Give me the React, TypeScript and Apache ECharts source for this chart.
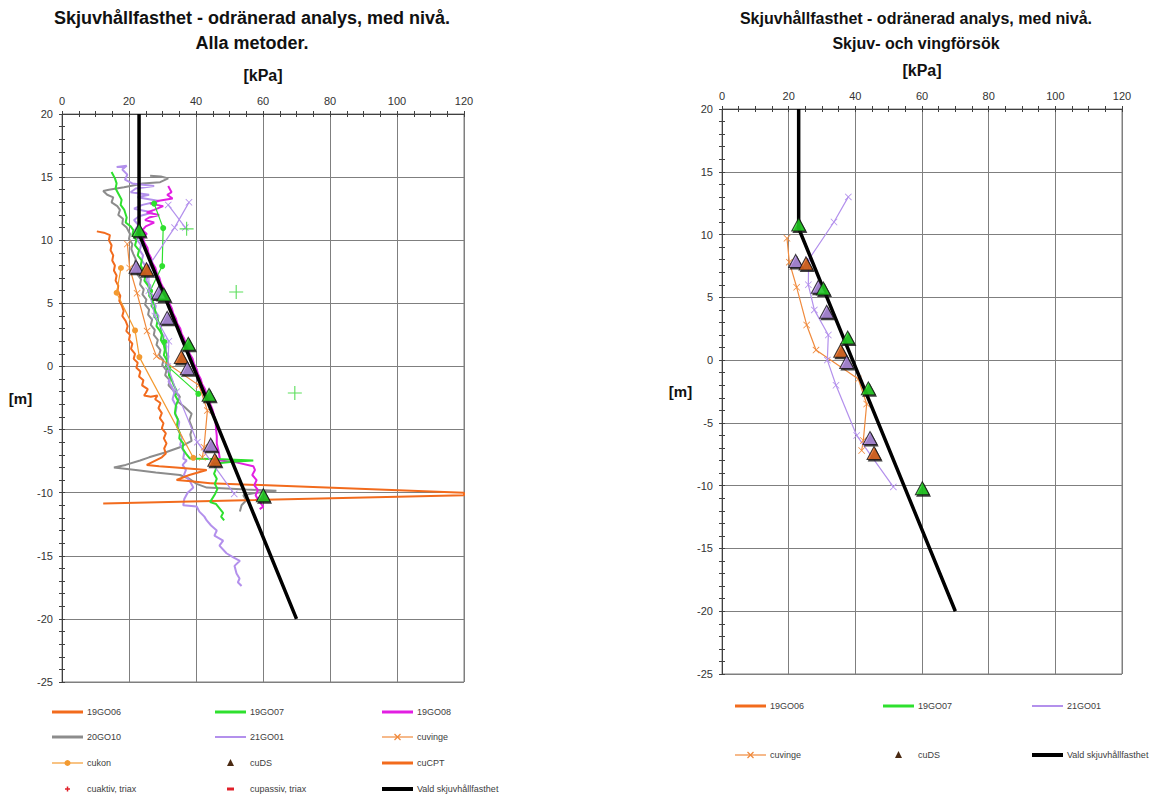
import { useEffect, useRef } from "react";
import * as echarts from "echarts";

const FONT = '"Liberation Sans", Arial, Helvetica, sans-serif';

// ---------- axes ----------
const X_MIN = 0;
const X_MAX = 120;
const X_STEP = 20;
const Y_MIN = -25;
const Y_MAX = 20;
const Y_STEP = 5;

// ---------- titles ----------
const leftTitle = ["Skjuvhållfasthet - odränerad analys, med nivå.", "Alla metoder."];
const rightTitle = ["Skjuvhållfasthet - odränerad analys, med nivå.", "Skjuv- och vingförsök"];

// ---------- data: [kPa, level m] ----------
const p19GO06 = [[10.4,10.7],[12.5,10.6],[14.3,10.4],[14.0,10.0],[14.8,9.6],[14.5,9.2],[15.3,8.8],[15.0,8.4],[15.8,8.0],[15.5,7.6],[16.3,7.2],[16.0,6.8],[16.8,6.4],[16.6,6.0],[17.4,5.6],[17.1,5.2],[17.9,4.8],[18.4,4.4],[18.0,4.0],[19.0,3.6],[19.6,3.2],[19.2,2.8],[20.3,2.5],[20.0,2.1],[21.0,1.8],[20.6,1.4],[21.8,1.0],[21.4,0.6],[22.6,0.3],[22.2,-0.1],[23.4,-0.4],[23.0,-0.8],[24.3,-1.1],[23.9,-1.5],[25.6,-1.8],[25.0,-2.1],[24.5,-2.3],[26.5,-2.4],[28.5,-2.3],[27.8,-2.6],[29.4,-2.9],[28.8,-3.3],[29.8,-3.7],[29.2,-4.1],[30.3,-4.5],[29.8,-4.9],[31.0,-5.3],[30.4,-5.7],[31.2,-6.1],[30.5,-6.5],[31.0,-6.9],[29.8,-7.2],[25.3,-7.8],[29.0,-7.9],[34.0,-8.0],[43.2,-8.2],[38.0,-8.6],[34.2,-9.0],[38.5,-9.1],[44.2,-9.25]];
const cuCPT = [[44.2,-9.25],[120,-10.0],[120,-10.2],[12.3,-10.85]];
const p19GO07 = [[14.8,15.4],[15.8,14.9],[16.3,14.5],[16.0,14.1],[17.0,13.6],[17.8,13.2],[17.5,12.8],[18.6,12.4],[19.3,11.8],[19.0,11.4],[20.5,11.1],[21.3,10.8],[21.0,10.4],[22.2,10.0],[21.8,9.6],[23.0,9.2],[22.6,8.8],[23.8,8.4],[23.5,8.0],[24.3,7.6],[24.9,7.2],[24.6,6.8],[25.7,6.4],[26.3,6.0],[26.0,5.6],[27.0,5.2],[26.7,4.8],[27.8,4.4],[27.5,4.0],[28.5,3.6],[28.2,3.2],[29.3,2.8],[29.8,2.5],[29.5,2.1],[30.4,1.7],[30.7,1.3],[30.4,0.9],[31.3,0.5],[31.0,0.1],[32.2,-0.3],[31.9,-0.7],[32.8,-1.1],[33.4,-1.5],[34.2,-1.9],[33.8,-2.3],[34.6,-2.7],[34.0,-3.1],[33.7,-3.7],[34.6,-4.2],[34.3,-4.7],[35.2,-5.3],[35.0,-5.7],[36.2,-6.1],[36.0,-6.5],[37.0,-6.9],[38.2,-7.3],[48.0,-7.35],[57.1,-7.45],[51.0,-7.55],[45.2,-7.7],[46.0,-8.1],[45.4,-8.5],[46.2,-8.9],[45.6,-9.3],[46.4,-9.7],[45.7,-10.1],[44.2,-10.75],[46.0,-10.9],[47.2,-11.3],[48.1,-11.6],[47.5,-11.9],[48.4,-12.2]];
const p19GO08 = [[31.7,14.3],[32.7,13.8],[31.4,13.6],[33.0,13.3],[28.5,13.1],[26.3,12.9],[30.2,12.7],[27.5,12.4],[25.3,12.2],[29.0,12.0],[26.0,11.8],[24.8,11.6],[27.5,11.4],[25.0,11.1],[24.0,10.8],[25.3,10.5],[24.2,10.2],[24.6,9.8],[25.5,9.4],[25.8,9.0],[26.6,8.6],[27.0,8.2],[27.9,7.8],[28.3,7.4],[29.1,7.0],[29.5,6.6],[30.3,6.2],[30.7,5.8],[31.6,5.4],[32.0,5.0],[32.8,4.6],[33.2,4.2],[34.0,3.8],[34.4,3.4],[35.3,3.0],[35.7,2.6],[36.5,2.2],[36.9,1.8],[37.7,1.4],[38.1,1.0],[39.0,0.6],[39.4,0.2],[40.2,-0.2],[40.6,-0.6],[41.4,-1.0],[41.8,-1.4],[42.7,-1.8],[43.1,-2.2],[43.9,-2.6],[44.3,-3.0],[44.9,-3.4],[45.3,-3.8],[45.7,-4.2],[45.9,-4.6],[46.0,-5.0],[46.2,-5.5],[46.2,-6.1],[46.8,-6.8],[47.2,-7.45],[52.0,-7.6],[57.1,-7.9],[57.6,-8.2],[56.8,-8.6],[58.1,-9.0],[57.4,-9.4],[58.5,-9.8],[57.8,-10.2],[58.6,-10.6],[60.1,-11.1],[59.0,-11.3]];
const p20GO10 = [[26.3,15.1],[29.5,15.05],[31.7,14.9],[29.3,14.6],[24.0,14.5],[22.3,14.4],[18.5,14.2],[14.0,14.0],[12.3,13.9],[13.5,13.6],[15.3,13.4],[14.8,13.0],[16.5,12.7],[17.3,12.4],[16.8,12.0],[18.2,11.7],[18.0,11.3],[19.3,11.0],[20.3,10.5],[20.0,10.1],[21.0,9.7],[20.7,9.3],[21.3,8.9],[22.0,8.5],[21.7,8.1],[22.8,7.7],[22.5,7.3],[23.6,6.9],[23.3,6.5],[24.4,6.1],[24.0,5.7],[25.2,5.3],[24.8,4.9],[26.0,4.5],[25.7,4.1],[26.9,3.7],[26.5,3.3],[27.7,2.9],[27.4,2.5],[28.6,2.1],[28.2,1.7],[29.4,1.3],[29.0,0.9],[30.3,0.5],[29.9,0.1],[31.2,-0.3],[30.8,-0.7],[32.2,-1.1],[31.8,-1.5],[33.2,-1.9],[35.2,-2.4],[34.6,-2.8],[36.5,-3.2],[38.7,-3.75],[38.0,-4.3],[38.9,-4.9],[38.3,-5.4],[38.7,-5.9],[35.2,-6.4],[31.0,-6.8],[26.0,-7.2],[23.3,-7.45],[19.0,-7.8],[15.5,-8.0],[22.0,-8.2],[28.0,-8.4],[35.2,-8.6],[38.0,-8.9],[40.2,-9.3],[43.2,-9.6],[55.0,-9.75],[64.0,-9.85],[58.0,-10.0],[54.1,-10.2],[55.0,-10.6],[53.6,-11.0],[53.1,-11.5]];
const p21GO01 = [[16.3,15.8],[19.3,15.9],[18.0,15.6],[19.5,15.2],[18.8,14.8],[21.0,14.5],[27.5,14.3],[22.0,14.1],[20.5,13.8],[26.0,13.6],[22.5,13.4],[29.0,13.1],[24.0,12.8],[21.5,12.5],[27.0,12.2],[23.0,11.9],[21.5,11.6],[22.8,11.2],[21.8,10.8],[23.0,10.4],[22.5,10.0],[23.6,9.6],[23.2,9.2],[24.2,8.8],[23.8,8.4],[24.8,8.0],[24.4,7.6],[25.6,7.2],[25.2,6.8],[26.4,6.4],[26.0,6.0],[27.2,5.6],[26.9,5.2],[28.0,4.8],[27.7,4.4],[28.8,4.0],[28.5,3.6],[29.6,3.2],[29.3,2.8],[30.4,2.4],[30.1,2.0],[31.2,1.6],[30.9,1.2],[31.8,0.8],[31.5,0.4],[32.2,0.0],[31.6,-0.4],[32.4,-0.8],[31.8,-1.2],[32.8,-1.6],[33.5,-2.1],[33.0,-2.6],[34.2,-3.2],[33.8,-3.8],[35.0,-4.4],[34.6,-5.0],[35.8,-5.6],[35.3,-6.2],[36.5,-6.8],[36.2,-7.3],[37.2,-7.45],[36.0,-7.8],[37.0,-8.2],[36.4,-8.6],[38.0,-9.0],[39.2,-9.6],[37.5,-10.0],[36.5,-10.5],[36.2,-11.0],[40.2,-11.1],[41.0,-11.5],[42.5,-11.9],[43.2,-12.2],[44.5,-12.6],[46.2,-13.0],[45.5,-13.4],[48.1,-13.8],[47.0,-14.2],[49.1,-14.8],[51.0,-15.1],[53.1,-15.4],[51.5,-15.8],[52.1,-16.4],[53.0,-16.8],[52.5,-17.1],[53.6,-17.4]];
const cukon19GO06 = [[17.6,7.8],[16.3,5.84],[21.8,2.85],[23.1,0.74],[39.2,-7.24]];
const cukon19GO07 = [[27.5,12.9],[30.2,10.96],[29.9,7.95],[26.3,5.97],[30.6,1.93],[31.8,-0.05],[40.7,-2.17]];
const cuvinge = [[19.5,9.7],[20.2,7.8],[22.4,5.8],[25.4,2.8],[28.2,0.8],[40.9,-1.5],[43.4,-3.5],[42.4,-6.4],[41.9,-7.2]];
const vinge21GO01 = [[37.9,13.0],[33.6,11.0],[26.0,8.0],[25.9,6.0],[27.7,4.0],[31.9,2.0],[31.6,0.0],[34.2,-2.0],[40.4,-6.0],[51.4,-10.1]];
const vinge21GO01b = [[31.7,12.8],[36.8,11.0]];
const cuaktiv = [[37.2,10.9],[52.0,5.9],[69.5,-2.1]];
const cuDSPoints = [[23.0,10.8],[22.1,7.9],[25.2,7.7],[28.9,5.85],[30.4,5.7],[31.4,3.85],[37.7,1.8],[35.6,0.75],[37.4,-0.15],[43.9,-2.25],[44.4,-6.2],[45.6,-7.4],[60.1,-10.2]];
const cuDSSource = ["19GO07","21GO01","19GO06","21GO01","19GO07","21GO01","19GO07","19GO06","21GO01","19GO07","21GO01","19GO06","19GO07"];
const vald = [[23,20],[23,10.5],[70,-20]];

// ---------- legends ----------
const leftLegend = ["19GO06","19GO07","19GO08","20GO10","21GO01","cuvinge","cukon","cuDS","cuCPT","cuaktiv, triax","cupassiv, triax","Vald skjuvhållfasthet"];
const rightLegend = ["19GO06","19GO07","21GO01","cuvinge","cuDS","Vald skjuvhållfasthet"];

const C = {
  o6: "#F26B1D",
  g7: "#2EE02E",
  m8: "#E21EE2",
  gr: "#8C8C8C",
  pu: "#B390EC",
  vin: "#F08A3C",
  kon: "#F39A30",
  red: "#E0202A",
  ds: "#4A2A12",
};
const dsColor: Record<string, string> = { "19GO06": "#EE6A1C", "19GO07": "#22DD22", "21GO01": "#B690EA" };

const legendStyle: Record<string, any> = {
  "19GO06": { kind: "line", color: C.o6, w: 3 },
  "19GO07": { kind: "line", color: C.g7, w: 3 },
  "19GO08": { kind: "line", color: C.m8, w: 3 },
  "20GO10": { kind: "line", color: C.gr, w: 3 },
  "21GO01": { kind: "line", color: C.pu, w: 2 },
  cuvinge: { kind: "lineX", color: C.vin, w: 1.2 },
  cukon: { kind: "lineDot", color: C.kon, w: 1.2 },
  cuDS: { kind: "tri", color: C.ds },
  cuCPT: { kind: "line", color: C.o6, w: 3 },
  "cuaktiv, triax": { kind: "plus", color: C.red },
  "cupassiv, triax": { kind: "dash", color: C.red },
  "Vald skjuvhållfasthet": { kind: "line", color: "#000", w: 4 },
};

const X_SYMBOL = "path://M0,0.8L0.8,0L5,4.2L9.2,0L10,0.8L5.8,5L10,9.2L9.2,10L5,5.8L0.8,10L0,9.2L4.2,5Z";
const PLUS_SYMBOL = "path://M4.6,0H5.4V4.6H10V5.4H5.4V10H4.6V5.4H0V4.6H4.6Z";

function legendGraphics(names: string[], colsX: number[], rowsY: number[]) {
  const els: any[] = [];
  names.forEach((name, i) => {
    const st = legendStyle[name];
    const x0 = colsX[i % 3];
    const y = rowsY[Math.floor(i / 3)];
    const x1 = x0 + 31;
    const cx = (x0 + x1) / 2;
    if (st.kind === "line" || st.kind === "lineX" || st.kind === "lineDot") {
      els.push({ type: "line", shape: { x1: x0, y1: y, x2: x1, y2: y }, style: { stroke: st.color, lineWidth: st.w } });
    }
    if (st.kind === "lineX") {
      els.push({ type: "line", shape: { x1: cx - 3, y1: y - 3, x2: cx + 3, y2: y + 3 }, style: { stroke: st.color, lineWidth: 1.2 } });
      els.push({ type: "line", shape: { x1: cx - 3, y1: y + 3, x2: cx + 3, y2: y - 3 }, style: { stroke: st.color, lineWidth: 1.2 } });
    }
    if (st.kind === "lineDot") {
      els.push({ type: "circle", shape: { cx, cy: y, r: 3 }, style: { fill: st.color } });
    }
    if (st.kind === "tri") {
      els.push({ type: "polygon", shape: { points: [[cx, y - 4], [cx - 3.5, y + 3], [cx + 3.5, y + 3]] }, style: { fill: st.color } });
    }
    if (st.kind === "plus") {
      els.push({ type: "line", shape: { x1: cx - 2.5, y1: y, x2: cx + 2.5, y2: y }, style: { stroke: st.color, lineWidth: 1.5 } });
      els.push({ type: "line", shape: { x1: cx, y1: y - 2.5, x2: cx, y2: y + 2.5 }, style: { stroke: st.color, lineWidth: 1.5 } });
    }
    if (st.kind === "dash") {
      els.push({ type: "rect", shape: { x: cx - 3.5, y: y - 1.5, width: 7, height: 3 }, style: { fill: st.color } });
    }
    els.push({
      type: "text",
      x: x1 + 4,
      y,
      style: { text: name, fill: "#404040", font: `9px ${FONT}`, textAlign: "left", textVerticalAlign: "middle" },
    });
  });
  return els;
}

function titleGraphics(lines: string[], cx: number, size: number) {
  return lines.map((t, i) => ({
    type: "text",
    x: cx,
    y: 18 + i * 25,
    style: { text: t, fill: "#111", font: `bold ${size}px ${FONT}`, textAlign: "center", textVerticalAlign: "middle" },
  }));
}

function mkX(gi: number, main: boolean, nameGap: number) {
  return {
    type: "value",
    gridIndex: gi,
    position: "top",
    min: X_MIN,
    max: X_MAX,
    interval: X_STEP,
    axisLine: { show: true, onZero: false, lineStyle: { color: "#404040", width: 1 } },
    axisTick: { show: true, inside: !main, length: 3, lineStyle: { color: "#404040" } },
    minorTick: { show: true, splitNumber: 4, length: 3, lineStyle: { color: "#404040" } },
    axisLabel: { show: main, fontSize: 11, color: "#333", margin: 8, fontFamily: FONT },
    splitLine: { show: main, lineStyle: { color: "#7f7f7f", width: 1 } },
    minorSplitLine: { show: false },
    name: main ? "[kPa]" : "",
    nameLocation: "middle",
    nameGap,
    nameTextStyle: { fontWeight: "bold", fontSize: 16, color: "#111", fontFamily: FONT },
  };
}

function mkY(gi: number, main: boolean, nameGap: number) {
  return {
    type: "value",
    gridIndex: gi,
    position: "left",
    min: Y_MIN,
    max: Y_MAX,
    interval: Y_STEP,
    axisLine: { show: true, onZero: false, lineStyle: { color: "#404040", width: 1 } },
    axisTick: { show: true, inside: !main, length: 3, lineStyle: { color: "#404040" } },
    minorTick: { show: true, splitNumber: 5, length: 3, lineStyle: { color: "#404040" } },
    axisLabel: { show: main, fontSize: 11, color: "#333", margin: 9, fontFamily: FONT },
    splitLine: { show: main, lineStyle: { color: "#7f7f7f", width: 1 } },
    name: main ? "[m]" : "",
    nameLocation: "middle",
    nameRotate: 0,
    nameGap,
    nameTextStyle: { fontWeight: "bold", fontSize: 15, color: "#111", fontFamily: FONT },
  };
}

function line(name: string, data: number[][], color: string, width: number, gi: number, z: number, extra: any = {}) {
  return {
    type: "line",
    name,
    data,
    xAxisIndex: gi,
    yAxisIndex: gi,
    symbol: "none",
    lineStyle: { color, width },
    itemStyle: { color },
    z,
    silent: true,
    ...extra,
  };
}

function dsSeries(gi: number) {
  return [
    {
      type: "scatter",
      name: "cuDS-shadow",
      xAxisIndex: gi,
      yAxisIndex: gi,
      data: cuDSPoints,
      symbol: "triangle",
      symbolSize: [15, 14],
      symbolOffset: [1.2, 1.5],
      itemStyle: { color: "#111" },
      z: 8,
      silent: true,
    },
    {
      type: "scatter",
      name: "cuDS",
      xAxisIndex: gi,
      yAxisIndex: gi,
      data: cuDSPoints.map((p, i) => ({ value: p, itemStyle: { color: dsColor[cuDSSource[i]] } })),
      symbol: "triangle",
      symbolSize: [14, 13],
      itemStyle: { color: C.ds, borderColor: "#111", borderWidth: 1 },
      z: 9,
      silent: true,
    },
  ];
}

function vingeSeries(gi: number) {
  return [
    line("cuvinge", cuvinge, C.vin, 1.2, gi, 5, { symbol: X_SYMBOL, symbolSize: 7, showSymbol: true, itemStyle: { color: C.vin } }),
    line("21GO01 vinge", vinge21GO01, C.pu, 1.2, gi, 5, { symbol: X_SYMBOL, symbolSize: 7, showSymbol: true, itemStyle: { color: C.pu } }),
  ];
}

export default function App() {
  const ref = useRef<HTMLDivElement>(null);
  useEffect(() => {
    document.body.style.margin = "0";
    if (!ref.current) return;
    const chart = echarts.init(ref.current, undefined, { renderer: "svg" });
    const L = 0;
    const R = 2;
    const series: any[] = [
      // left chart
      line("20GO10", p20GO10, C.gr, 2, L, 2),
      line("21GO01", p21GO01, C.pu, 2, L, 2),
      line("19GO06", p19GO06, C.o6, 2, L, 2),
      line("cuCPT", cuCPT, C.o6, 2, L, 2),
      line("19GO07", p19GO07, C.g7, 2, L, 3),
      line("19GO08", p19GO08, C.m8, 2, L, 2),
      line("cukon", cukon19GO06, C.kon, 1.2, L, 4, { symbol: "circle", symbolSize: 6, showSymbol: true, itemStyle: { color: C.kon } }),
      line("cukon 19GO07", cukon19GO07, C.g7, 1.2, L, 4, { symbol: "circle", symbolSize: 6, showSymbol: true, itemStyle: { color: C.g7 } }),
      line("21GO01 vinge b", vinge21GO01b, C.pu, 1.2, L, 5, { symbol: X_SYMBOL, symbolSize: 7, showSymbol: true, itemStyle: { color: C.pu } }),
      ...vingeSeries(L),
      line("Vald skjuvhållfasthet", vald, "#000", 3.5, L, 7),
      ...dsSeries(L),
      {
        type: "scatter",
        name: "cuaktiv, triax",
        xAxisIndex: L,
        yAxisIndex: L,
        data: cuaktiv,
        symbol: PLUS_SYMBOL,
        symbolSize: 14,
        itemStyle: { color: "#33D633" },
        z: 10,
        silent: true,
      },
      // right chart
      ...vingeSeries(R),
      line("Vald skjuvhållfasthet", vald, "#000", 3.5, R, 7),
      ...dsSeries(R),
    ];

    const option: any = {
      animation: false,
      backgroundColor: "#ffffff",
      textStyle: { fontFamily: FONT },
      grid: [
        { left: 62, top: 114, width: 402, height: 568, show: true, borderColor: "#7f7f7f", borderWidth: 1, backgroundColor: "transparent" },
        { left: 62, top: 114, width: 402, height: 568 },
        { left: 722, top: 109, width: 400, height: 565, show: true, borderColor: "#7f7f7f", borderWidth: 1, backgroundColor: "transparent" },
        { left: 722, top: 109, width: 400, height: 565 },
      ],
      xAxis: [mkX(0, true, 31), mkX(1, false, 31), mkX(2, true, 31), mkX(3, false, 31)],
      yAxis: [mkY(0, true, 27), mkY(1, false, 27), mkY(2, true, 28), mkY(3, false, 28)],
      series,
      graphic: [
        ...titleGraphics(leftTitle, 252, 18),
        ...titleGraphics(rightTitle, 916, 16),
        ...legendGraphics(leftLegend, [52, 215, 382], [712, 737, 763, 789]),
        ...legendGraphics(rightLegend, [735, 883, 1032], [706, 755]),
      ],
    };
    chart.setOption(option);
    return () => chart.dispose();
  }, []);
  return <div ref={ref} style={{ width: 1153, height: 798 }} />;
}
